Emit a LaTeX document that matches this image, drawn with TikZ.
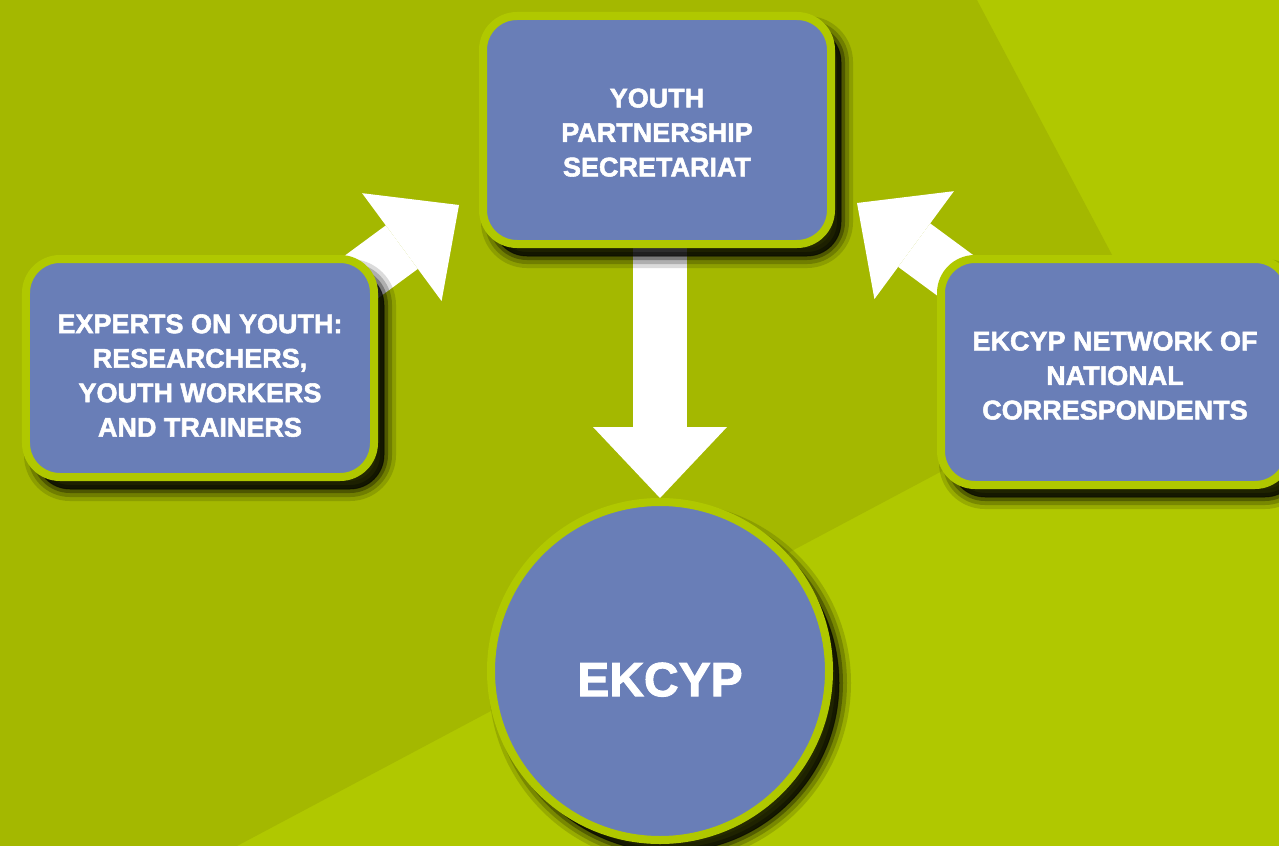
\documentclass[tikz,border=0pt]{standalone}
\usepackage{fontspec}
\setmainfont[BoldFeatures={FakeBold=2}]{Liberation Sans}
\usetikzlibrary{arrows.meta,shadows}

\definecolor{darkleaf}{RGB}{164,184,0}
\definecolor{lightleaf}{RGB}{176,200,0}
\definecolor{boxblue}{RGB}{105,126,183}

\pgfdeclarelayer{bg}
\pgfdeclarelayer{arrows}
\pgfsetlayers{bg,arrows,main}

% lines of a label, moved down by #1
\newcommand{\boxlines}[2]{\raisebox{-#1}[\height][\depth]{\begin{tabular}{@{}c@{}}#2\end{tabular}}}

\tikzset{
  softshadow/.style={
    general shadow={fill=black, draw=black, line width=24bp, opacity=0.14, shadow xshift=10bp, shadow yshift=-12bp},
    general shadow={fill=black, draw=black, line width=16bp, opacity=0.2, shadow xshift=10bp, shadow yshift=-12bp},
    general shadow={fill=black, draw=black, line width=8bp, opacity=0.3, shadow xshift=10bp, shadow yshift=-12bp},
    general shadow={fill=black, draw=black, line width=1bp, opacity=0.45, shadow xshift=10bp, shadow yshift=-12bp}},
  block/.style={shape=rectangle, rounded corners=34bp, draw=lightleaf, line width=8bp,
    fill=boxblue, text=white, inner sep=0pt, minimum width=348bp,
    font=\bfseries\fontsize{27bp}{34.5bp}\selectfont, softshadow},
  hub/.style={shape=circle, draw=lightleaf, line width=8bp, fill=boxblue, text=white,
    inner sep=0pt, minimum size=338bp, font=\bfseries\fontsize{48bp}{56bp}\selectfont, softshadow},
  bigarrow/.style={draw=white, line width=54bp, -{Triangle[length=71bp,width=134bp,line width=0pt]}}
}

\begin{document}
\begin{tikzpicture}[x=1bp,y=-1bp]
        \useasboundingbox (0,0) rectangle (1279,846);
        % background
        \begin{pgfonlayer}{bg}
          \fill[lightleaf] (0,0) rectangle (1279,846);
          \fill[darkleaf] (0,0) -- (977,0) -- (1164,353) -- (237,846) -- (0,846) -- cycle;
        \end{pgfonlayer}

        \node[block, minimum height=228bp] (secr) at (657,130) {\boxlines{5bp}{YOUTH\\PARTNERSHIP\\SECRETARIAT}};
        \node[block, minimum height=218bp] (experts) at (200,368) {\boxlines{10bp}{EXPERTS ON YOUTH:\\RESEARCHERS,\\YOUTH WORKERS\\AND TRAINERS}};
        \node[block, minimum height=226bp] (network) at (1115,372) {\boxlines{6bp}{EKCYP NETWORK OF\\NATIONAL\\CORRESPONDENTS}};
        \node[hub] (ekcyp) at (660,671) {\boxlines{14bp}{EKCYP}};

        \coordinate (leftfoot) at (250,359);
        \coordinate (lefttip) at (459,205);
        \coordinate (rightfoot) at (1066,357);
        \coordinate (righttip) at (857,203);

        \begin{pgfonlayer}{arrows}
          \draw[bigarrow] (leftfoot) -- (lefttip);
          \draw[bigarrow] (rightfoot) -- (righttip);
          \draw[bigarrow] (secr.south -| ekcyp.north) -- (ekcyp.north);
        \end{pgfonlayer}
    \end{tikzpicture}
\end{document}
